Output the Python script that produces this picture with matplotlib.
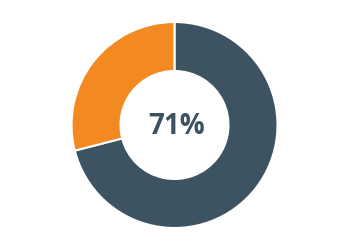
import matplotlib
matplotlib.use("Agg")
import matplotlib.pyplot as plt

# chart values
labels = ["Yes", "No"]
shares = [71, 29]
colors = ["#3d5361", "#f28a21"]
center_label = f"{shares[0]}%"

fig = plt.figure(figsize=(3.48, 2.53), dpi=100)
ax = fig.add_axes([0, 0, 1, 1])

ax.pie(
    shares,
    colors=colors,
    startangle=90,
    counterclock=False,
    radius=103,
    center=(174.5, 127),
    wedgeprops=dict(width=49, edgecolor="white", linewidth=1.5),
)
ax.text(
    177, 126, center_label,
    ha="center", va="center",
    fontsize=20, fontweight="bold", family="Open Sans", color=colors[0],
)

ax.set_xlim(0, 348)
ax.set_ylim(0, 253)
ax.set_aspect("equal")
ax.axis("off")

fig.savefig("out.png", dpi=100, facecolor="white")
plt.close(fig)
